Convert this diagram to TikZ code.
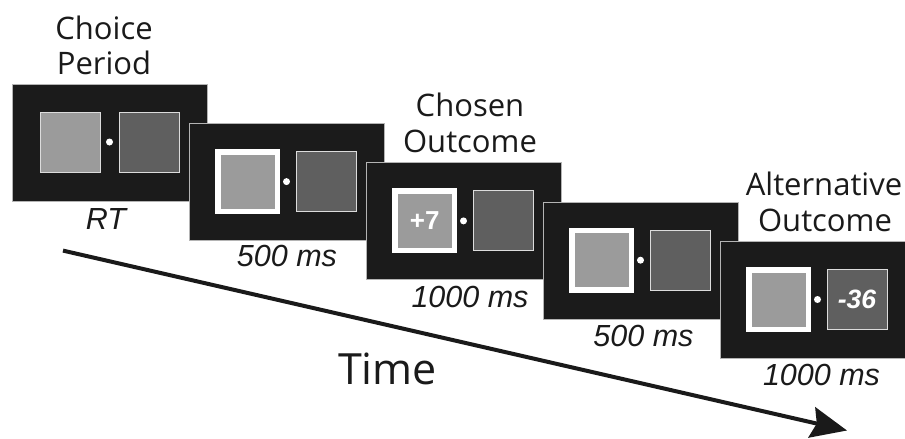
\documentclass[tikz,border=0pt]{standalone}
\usepackage{fontspec}
\setmainfont{Liberation Sans}
\newfontfamily\titlefont{Open Sans}
\usetikzlibrary{arrows.meta}
\definecolor{panelblack}{HTML}{1B1B1B}
\definecolor{paneledge}{HTML}{B4B4B4}
\definecolor{lightsq}{HTML}{9B9B9B}
\definecolor{darksq}{HTML}{5F5F5F}
\definecolor{sqedge}{HTML}{DCDCDC}
\definecolor{inkblack}{HTML}{1A1A1A}
\tikzset{
  panel/.style={fill=panelblack, draw=paneledge, line width=0.7pt, minimum width=195pt, minimum height=117pt, inner sep=0pt, outer sep=0pt, anchor=north west},
  sqlight/.style={fill=lightsq, draw=sqedge, line width=0.8pt, minimum size=60pt, inner sep=0pt},
  sqdark/.style={fill=darksq, draw=sqedge, line width=0.8pt, minimum size=60pt, inner sep=0pt, text=white, font=\bfseries\itshape\fontsize{26.5}{26.5}\selectfont},
  chosenframe/.style={fill=white, minimum size=65pt, inner sep=0pt},
  choseninner/.style={fill=lightsq, minimum size=54pt, inner sep=0pt, text=white, font=\bfseries\fontsize{26}{26}\selectfont},
  fixdot/.style={circle, fill=white, minimum size=7pt, inner sep=0pt},
  titletext/.style={font=\titlefont\fontsize{31}{36}\selectfont, text=inkblack, anchor=base, inner sep=0pt},
  durtext/.style={font=\itshape\fontsize{30.5}{30.5}\selectfont, text=inkblack, anchor=base, inner sep=0pt},
  timetext/.style={font=\titlefont\fontsize{43}{43}\selectfont, text=inkblack, anchor=base, inner sep=0pt},
}
\begin{document}
\begin{tikzpicture}[x=1pt,y=-1pt]
\clip (0,0) rectangle (905,439);
\fill[white] (0,0) rectangle (905,439);

% time arrow
\coordinate (astart) at (63,250.6);
\coordinate (aend) at (847,430.5);
\draw[inkblack, line width=4pt, -{Stealth[length=36pt,width=31pt,inset=5pt]}] (astart) -- (aend);
\node[timetext] (time) at (387.5,384) {Time};

% panel 1: choice period
\begin{scope}[shift={(12,84)}]
  \node[panel] (p1) at (0,0) {};
  \node[sqlight] (l1) at (58.7,58) {};
  \node[sqdark] (d1) at (137,58) {};
  \node[fixdot] (f1) at (97.5,58) {};
\end{scope}

% panel 2: 500 ms
\begin{scope}[shift={(189,123.3)}]
  \node[panel] (p2) at (0,0) {};
  \node[chosenframe] (w2) at (58.7,58.3) {};
  \node[choseninner] (l2) at (58.7,58.3) {};
  \node[sqdark] (d2) at (137,58.2) {};
  \node[fixdot] (f2) at (97.5,58.3) {};
\end{scope}

% panel 3: chosen outcome
\begin{scope}[shift={(366,162.6)}]
  \node[panel] (p3) at (0,0) {};
  \node[chosenframe] (w3) at (58.7,58.3) {};
  \node[choseninner] (l3) at (58.7,58.3) {+7};
  \node[sqdark] (d3) at (137,58.2) {};
  \node[fixdot] (f3) at (97.5,58.3) {};
\end{scope}

% panel 4: 500 ms
\begin{scope}[shift={(543,201.9)}]
  \node[panel] (p4) at (0,0) {};
  \node[chosenframe] (w4) at (58.7,58.3) {};
  \node[choseninner] (l4) at (58.7,58.3) {};
  \node[sqdark] (d4) at (137,58.2) {};
  \node[fixdot] (f4) at (97.5,58.3) {};
\end{scope}

% panel 5: alternative outcome
\begin{scope}[shift={(720,241.2)}]
  \node[panel] (p5) at (0,0) {};
  \node[chosenframe] (w5) at (58.7,58.3) {};
  \node[choseninner] (l5) at (58.7,58.3) {};
  \node[sqdark] (d5) at (137,58.2) {-36};
  \node[fixdot] (f5) at (97.5,58.3) {};
\end{scope}

% titles
\node[titletext] (t1a) at (104,39.3) {Choice};
\node[titletext] (t1b) at (104,74.5) {Period};
\node[titletext] (t3a) at (470,116.7) {Chosen};
\node[titletext] (t3b) at (470,152.7) {Outcome};
\node[titletext] (t5a) at (824,195) {Alternative};
\node[titletext] (t5b) at (825,231.7) {Outcome};

% durations
\node[durtext] (r1) at (106,229.3) {RT};
\node[durtext] (r2) at (287,266.7) {500 ms};
\node[durtext] (r3) at (470,307.3) {1000 ms};
\node[durtext] (r4) at (643.5,346.7) {500 ms};
\node[durtext] (r5) at (821.5,385) {1000 ms};
\end{tikzpicture}
\end{document}
